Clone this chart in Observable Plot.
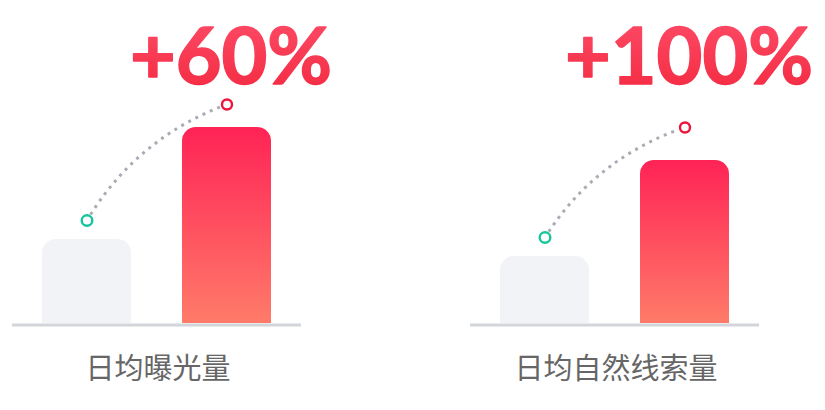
<!DOCTYPE html>
<html><head><meta charset="utf-8">
<script src="https://cdn.jsdelivr.net/npm/d3@7"></script>
<script src="https://cdn.jsdelivr.net/npm/@observablehq/plot@0.6"></script>
<style>html,body{margin:0;padding:0;background:#fff}#chart{width:825px;height:410px}</style>
</head><body><div id="chart"></div>
<script>
const categories = ["日均曝光量", "日均自然线索量"];
const series = ["before", "after"];
const beforeValues = [84, 67];
const afterValues = [196, 163];
const beforeMarkers = [103, 86];
const afterMarkers = [219, 196];
const growthLabels = ["+60%", "+100%"];

const bars = categories.flatMap((c, i) => [
  {category: c, series: "before", value: beforeValues[i], marker: beforeMarkers[i]},
  {category: c, series: "after", value: afterValues[i], marker: afterMarkers[i]}
]);
const links = categories.map((c, i) => ({
  category: c, from: "before", to: "after",
  y1: beforeMarkers[i], y2: afterMarkers[i], label: growthLabels[i]
}));

const plot = Plot.plot({
  width: 825, height: 410,
  marginTop: 0, marginBottom: 87, marginLeft: 12, marginRight: 66,
  fx: {domain: categories, paddingInner: 0.369, paddingOuter: 0, label: null},
  x: {domain: series, paddingInner: 0.362, paddingOuter: 0.206, axis: null},
  y: {domain: [0, 323], axis: null},
  style: {fontFamily: "'Noto Sans CJK SC', 'Noto Sans', sans-serif", background: "#fff"},
  marks: [
    Plot.axisFx({anchor: "bottom", tickSize: 0, tickPadding: 35, fontSize: 29, color: "#666", dx: 1, label: null}),
    Plot.barY(bars, {filter: d => d.series === "before", fx: "category", x: "series", y: "value", fill: "#f2f3f7", ry1: 14}),
    Plot.barY(bars, {filter: d => d.series === "after", fx: "category", x: "series", y: "value", fill: "url(#barGrad)", ry1: 14}),
    Plot.ruleY([0], {stroke: "#d2d5da", strokeWidth: 3, dy: 1.5}),
    Plot.arrow(links, {fx: "category", x1: "from", x2: "to", y1: "y1", y2: "y2", bend: 20, headLength: 0,
      stroke: "#a8acb5", strokeWidth: 3, strokeDasharray: "3,5", strokeLinecap: "butt", insetStart: 7, insetEnd: 7}),
    Plot.dot(bars, {filter: d => d.series === "before", fx: "category", x: "series", y: "marker", r: 5.3, fill: "#fff", stroke: "#17c49c", strokeWidth: 2.4}),
    Plot.dot(bars, {filter: d => d.series === "after", fx: "category", x: "series", y: "marker", r: 5, fill: "#fff", stroke: "#ec163c", strokeWidth: 2.4}),
    Plot.text(links, {fx: "category", x: "to", text: "label", frameAnchor: "top", lineAnchor: "top", dy: 27, dx: 4,
      fontSize: 79, fontWeight: 700, fontFamily: "Lato, 'Noto Sans', sans-serif", fill: "url(#textGrad)",
      stroke: "url(#textGrad)", strokeWidth: 1.6, strokeLinejoin: "round"})
  ]
});

const svg = plot.tagName.toLowerCase() === "svg" ? plot : plot.querySelector("svg");
const defs = d3.select(svg).insert("defs", ":first-child");
const g1 = defs.append("linearGradient").attr("id", "barGrad").attr("x1", 0).attr("y1", 0).attr("x2", 0).attr("y2", 1);
g1.append("stop").attr("offset", "0%").attr("stop-color", "#ff2356");
g1.append("stop").attr("offset", "100%").attr("stop-color", "#ff7b69");
const g2 = defs.append("linearGradient").attr("id", "textGrad").attr("x1", 0).attr("y1", 0).attr("x2", 0).attr("y2", 1);
g2.append("stop").attr("offset", "0%").attr("stop-color", "#ff4f6b");
g2.append("stop").attr("offset", "100%").attr("stop-color", "#f3283f");
document.getElementById("chart").appendChild(plot);
</script>
</body></html>
